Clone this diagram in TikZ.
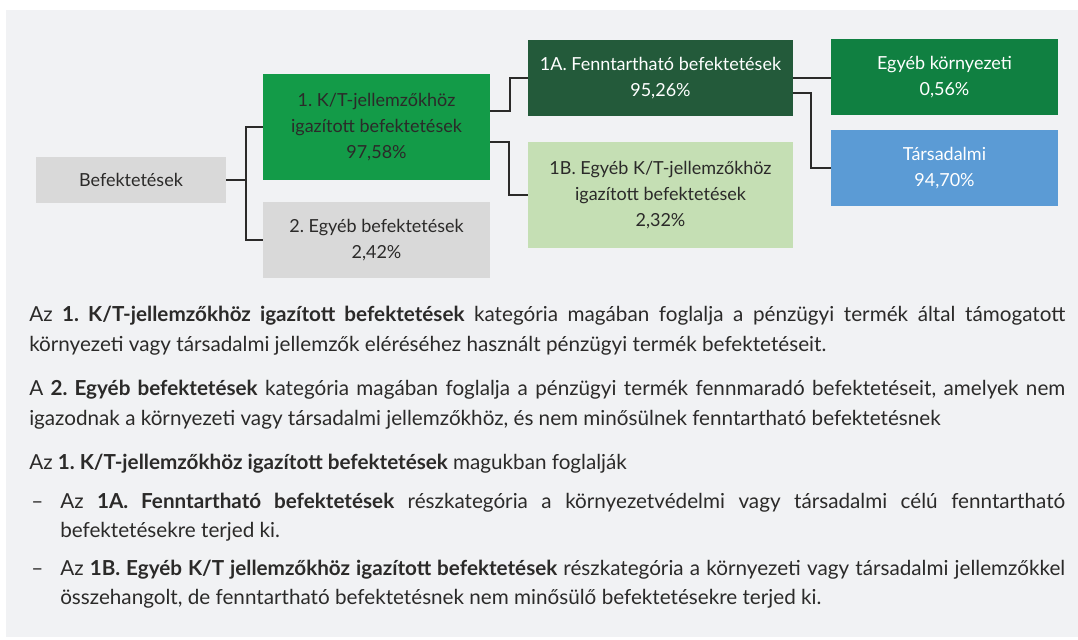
\documentclass[tikz,border=0pt]{standalone}
\usepackage{fontspec}
\setmainfont{Lato}
\usetikzlibrary{calc}
\frenchspacing
\definecolor{panel}{HTML}{F1F2F4}
\definecolor{greyb}{HTML}{D9D9D9}
\definecolor{greenA}{HTML}{139B48}
\definecolor{dgreen}{HTML}{235A3A}
\definecolor{lgreen}{HTML}{C5DFB4}
\definecolor{mgreen}{HTML}{108041}
\definecolor{blueb}{HTML}{5B9BD5}
\definecolor{ink}{HTML}{2B2A29}
\begin{document}
\begin{tikzpicture}[x=0.75pt,y=-0.75pt,
  box/.style 2 args={rectangle, inner sep=0pt, minimum width=#1*0.75pt, minimum height=#2*0.75pt,
     align=center, font=\fontsize{13.5}{19.5}\selectfont},
  conn/.style={draw=ink, line width=1.5pt},
  body/.style={anchor=base west, inner sep=0pt, font=\fontsize{15.5}{22}\selectfont, text=ink}
]
\useasboundingbox (0,0) rectangle (1078,639);
\fill[white] (0,0) rectangle (1078,639);
\fill[panel] (6,10) rectangle (1078,637);

% boxes
\node[box={190}{46}, fill=greyb, text=ink] (bef) at (131,180) {Befektetések};
\node[box={227}{106}, fill=greenA, text=ink] (b1) at (376.5,127) {1. K/T-jellemzőkhöz\\igazított befektetések\\97,58\%};
\node[box={227}{76}, fill=greyb, text=ink] (b2) at (376.5,240) {2. Egyéb befektetések\\2,42\%};
\node[box={265}{76}, fill=dgreen, text=white] (a1) at (660.5,78) {1A. Fenntartható befektetések\\95,26\%};
\node[box={265}{106}, fill=lgreen, text=ink] (bb) at (660.5,195) {1B. Egyéb K/T-jellemzőkhöz\\igazított befektetések\\2,32\%};
\node[box={227}{76}, fill=mgreen, text=white] (eg) at (944.5,77) {Egyéb környezeti\\0,56\%};
\node[box={227}{76}, fill=blueb, text=white] (ta) at (944.5,168) {Társadalmi\\94,70\%};

% connectors
\draw[conn] (bef.east) -- ++(20,0);
\draw[conn] (b1.west) -- ++(-17,0) |- (b2.west);
\draw[conn] ($(b1.east)+(0,-16)$) -- ++(20,0) |- (a1.west);
\draw[conn] ($(b1.east)+(0,15)$) -- ++(19,0) |- (bb.west);
\draw[conn] (a1.east) -- (a1.east -| eg.west);
\draw[conn] ($(a1.east)+(0,15)$) -- ++(18,0) |- (ta.west);

% text
\node[body] (l1) at (29,321) {\makebox[777pt][s]{Az \textbf{1. K/T-jellemzőkhöz igazított befektetések} kategória magában foglalja a pénzügyi termék által támogatott}};
\node[body] (l2) at (29,351) {környezeti vagy társadalmi jellemzők eléréséhez használt pénzügyi termék befektetéseit.};
\node[body] (l3) at (29,395) {\makebox[777pt][s]{A \textbf{2. Egyéb befektetések} kategória magában foglalja a pénzügyi termék fennmaradó befektetéseit, amelyek nem}};
\node[body] (l4) at (29,425) {igazodnak a környezeti vagy társadalmi jellemzőkhöz, és nem minősülnek fenntartható befektetésnek};
\node[body] (l5) at (29,469) {Az \textbf{1. K/T-jellemzőkhöz igazított befektetések} magukban foglalják};
\node[body] (d1) at (31,508) {–};
\node[body] (l6) at (60,508) {\makebox[753.75pt][s]{Az \textbf{1A. Fenntartható befektetések} részkategória a környezetvédelmi vagy társadalmi célú fenntartható}};
\node[body] (l7) at (60,537) {befektetésekre terjed ki.};
\node[body] (d2) at (31,575) {–};
\node[body] (l8) at (60,575) {\makebox[753.75pt][s]{Az \textbf{1B. Egyéb K/T jellemzőkhöz igazított befektetések} részkategória a környezeti vagy társadalmi jellemzőkkel}};
\node[body] (l9) at (60,604) {összehangolt, de fenntartható befektetésnek nem minősülő befektetésekre terjed ki.};
\end{tikzpicture}
\end{document}
